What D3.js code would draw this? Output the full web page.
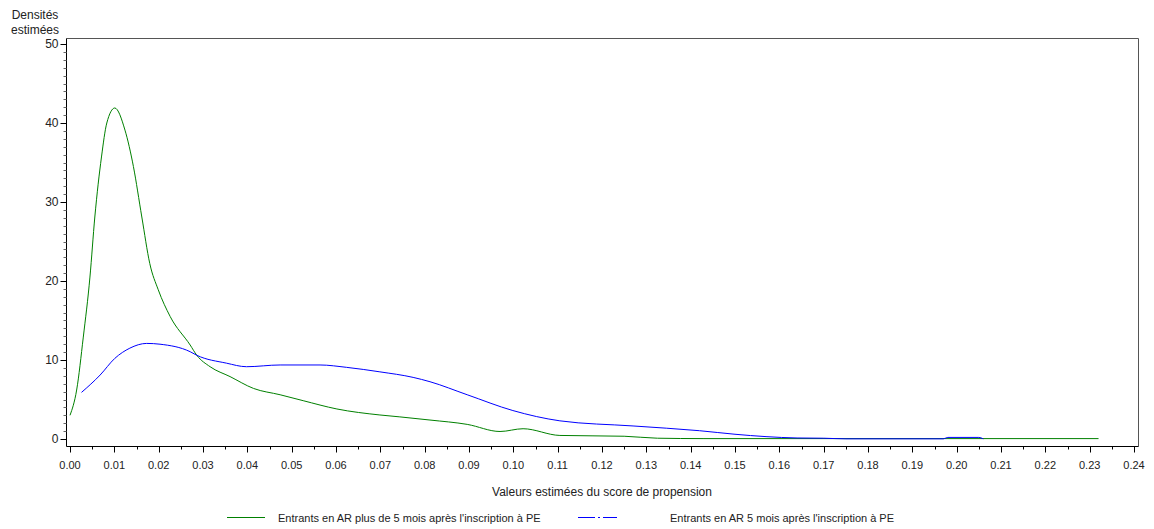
<!DOCTYPE html>
<html lang="fr">
<head>
<meta charset="UTF-8">
<title>Densités estimées</title>
<script src="https://d3js.org/d3.v7.min.js"></script>
<style>
body { margin: 0; background: #fff; }
text { font-family: "Liberation Sans", Arial, sans-serif; fill: #222; }
</style>
</head>
<body>
<div id="chart"></div>
<script>
// tick labels
const xTicks = d3.range(0, 25).map(d => d / 100)
const yTicks = [0, 10, 20, 30, 40, 50]

// series : Entrants en AR plus de 5 mois
const greenX = [0, 0.0015, 0.003, 0.0045, 0.0056, 0.0071, 0.0083, 0.0101, 0.0124, 0.0143, 0.0162, 0.018, 0.0199, 0.0226, 0.0271, 0.0286, 0.0316, 0.0361, 0.0414, 0.0474, 0.0526, 0.0602, 0.0699, 0.0744, 0.0812, 0.0896, 0.097, 0.1022, 0.1105, 0.125, 0.1325, 0.143, 0.232]
const greenY = [3.0, 6.2, 12.9, 20.5, 28.1, 35.7, 40, 41.9, 39.1, 34.5, 28.1, 22.2, 18.9, 15.5, 11.9, 10.6, 9.15, 7.9, 6.4, 5.6, 4.85, 3.8, 3.04, 2.8, 2.4, 1.85, 0.95, 1.3, 0.45, 0.35, 0.1, 0.05, 0.05]

// series : Entrants en AR 5 mois
const blueX = [0.0026, 0.0068, 0.0101, 0.0135, 0.0173, 0.0203, 0.0271, 0.0286, 0.0353, 0.0398, 0.0474, 0.0564, 0.0624, 0.0699, 0.0774, 0.0812, 0.0896, 0.0999, 0.1105, 0.127, 0.142, 0.15, 0.157, 0.164, 0.17, 0.175, 0.197, 0.198, 0.205, 0.206]
const blueY = [5.9, 8.1, 10.2, 11.5, 12.1, 12.0, 11.05, 10.6, 9.6, 9.15, 9.37, 9.37, 9.07, 8.5, 7.8, 7.25, 5.6, 3.6, 2.3, 1.65, 1.05, 0.6, 0.3, 0.13, 0.1, 0.02, 0.02, 0.2, 0.2, 0.02]

const labels = ["Entrants en AR plus de 5 mois après l'inscription à PE", "Entrants en AR 5 mois après l'inscription à PE"]

const width = 1154, height = 529
const frame = {left: 66.5, right: 1138.5, top: 38.5, bottom: 446.5}

const svg = d3.select('#chart').append('svg')
  .attr('width', width).attr('height', height)

const x = d3.scaleLinear().domain([0, 0.24]).range([70, 1134])
const y = d3.scaleLinear().domain([0, 50]).range([439, 44])

// frame top + right
svg.append('path')
  .attr('d', `M${frame.left},${frame.top}H${frame.right}V${frame.bottom}`)
  .attr('fill', 'none').attr('stroke', '#555').attr('stroke-width', 1)

// x axis
const xMinor = d3.range(0, 24).map(d => d / 100 + 0.005)
const gx = svg.append('g').attr('transform', `translate(0,${frame.bottom})`)
gx.append('line').attr('x1', frame.left).attr('x2', frame.right).attr('stroke', '#000')
gx.selectAll('.maj').data(xTicks).join('line')
  .attr('x1', d => Math.round(x(d)) + 0.5).attr('x2', d => Math.round(x(d)) + 0.5)
  .attr('y1', 0).attr('y2', 6).attr('stroke', '#000')
gx.selectAll('.min').data(xMinor).join('line')
  .attr('x1', d => Math.round(x(d)) + 0.5).attr('x2', d => Math.round(x(d)) + 0.5)
  .attr('y1', 0).attr('y2', 3).attr('stroke', '#000')
gx.selectAll('text').data(xTicks).join('text')
  .attr('x', d => x(d)).attr('y', 22)
  .attr('text-anchor', 'middle').style('font-size', '11px')
  .text(d => d.toFixed(2))

// y axis
const yMinor = d3.range(0, 51).filter(d => d % 10 != 0)
const gy = svg.append('g').attr('transform', `translate(${frame.left},0)`)
gy.append('line').attr('y1', frame.top).attr('y2', frame.bottom).attr('stroke', '#000')
gy.selectAll('.maj').data(yTicks).join('line')
  .attr('y1', d => Math.round(y(d)) + 0.5).attr('y2', d => Math.round(y(d)) + 0.5)
  .attr('x1', 0).attr('x2', -6).attr('stroke', '#000')
gy.selectAll('.min').data(yMinor).join('line')
  .attr('y1', d => Math.round(y(d)) + 0.5).attr('y2', d => Math.round(y(d)) + 0.5)
  .attr('x1', 0).attr('x2', -3).attr('stroke', '#666')
gy.selectAll('text').data(yTicks).join('text')
  .attr('x', -8).attr('y', d => y(d) + 4)
  .attr('text-anchor', 'end').style('font-size', '12px')
  .text(d => d)

// titles
svg.append('text').attr('x', 35).attr('y', 19).attr('text-anchor', 'middle')
  .style('font-size', '12px').text('Densités')
svg.append('text').attr('x', 35).attr('y', 34).attr('text-anchor', 'middle')
  .style('font-size', '12px').text('estimées')
svg.append('text').attr('x', 602).attr('y', 496).attr('text-anchor', 'middle')
  .style('font-size', '12px').text('Valeurs estimées du score de propension')

// curves
const line = d3.line().x(d => x(d[0])).y(d => y(d[1])).curve(d3.curveMonotoneX)
svg.append('path').datum(d3.zip(greenX, greenY))
  .attr('d', line).attr('fill', 'none').attr('stroke', '#008000').attr('stroke-width', 1)
svg.append('path').datum(d3.zip(blueX, blueY))
  .attr('d', line).attr('fill', 'none').attr('stroke', '#0000ff').attr('stroke-width', 1)

// legend
const leg = svg.append('g').attr('shape-rendering', 'crispEdges')
leg.append('line').attr('x1', 227).attr('x2', 265).attr('y1', 517.5).attr('y2', 517.5)
  .attr('stroke', '#008000')
leg.append('text').attr('x', 278).attr('y', 522).style('font-size', '11px').text(labels[0])
leg.append('line').attr('x1', 578).attr('x2', 617).attr('y1', 517.5).attr('y2', 517.5)
  .attr('stroke', '#0000ff').attr('stroke-dasharray', '17,3,2,3')
leg.append('text').attr('x', 670).attr('y', 522).style('font-size', '11px').text(labels[1])
</script>
</body>
</html>
